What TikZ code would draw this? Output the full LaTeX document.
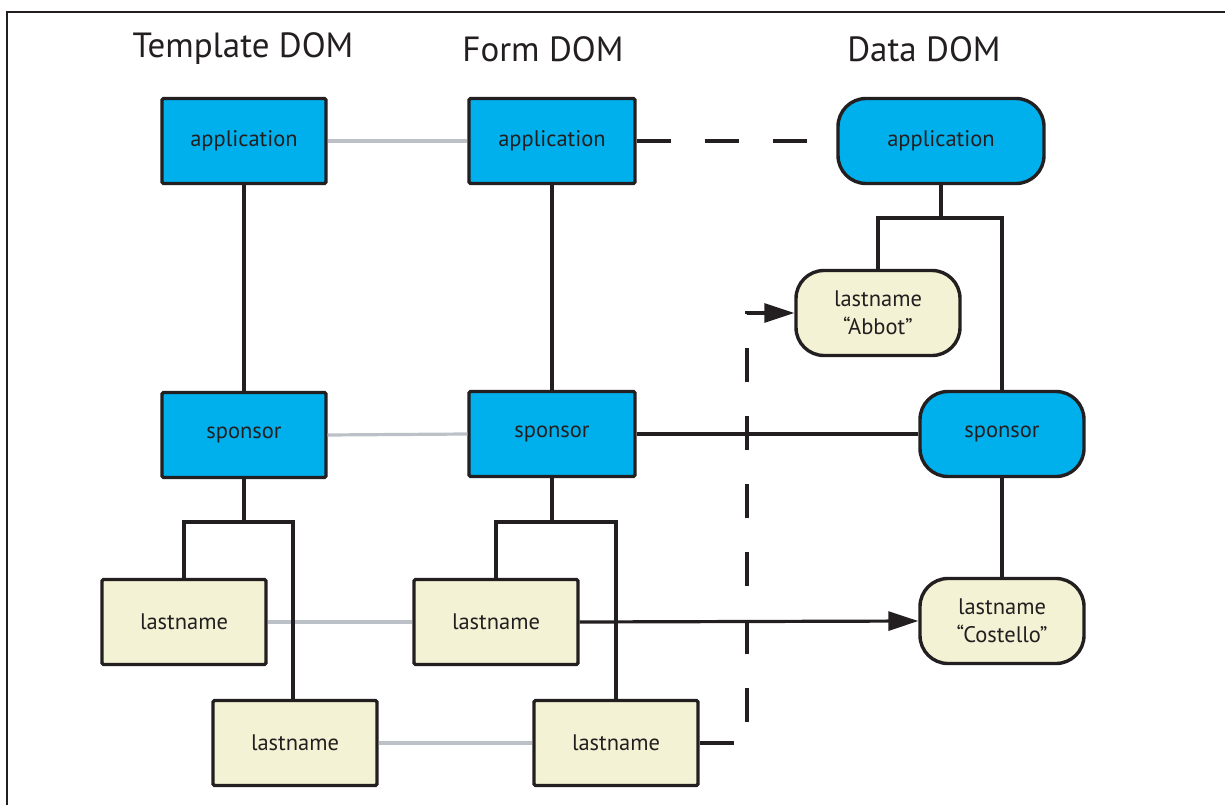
\documentclass[tikz,border=0pt]{standalone}
\usepackage{fontspec}
\setmainfont{PT Sans}
\usetikzlibrary{arrows.meta}
\definecolor{ink}{HTML}{231F20}
\definecolor{dblue}{HTML}{00B0EC}
\definecolor{cream}{HTML}{F3F2D4}
\definecolor{lgray}{HTML}{BCC1C7}
\begin{document}
\begin{tikzpicture}[x=1pt,y=-1pt,
  box/.style={draw=ink,line width=3.4pt,rounded corners=1.5pt,inner sep=0pt,minimum width=164pt,minimum height=85pt,font=\fontsize{22.5}{28}\selectfont,text=ink,align=center},
  bluebox/.style={box,fill=dblue},
  creambox/.style={box,fill=cream},
  roundbox/.style={rounded corners=28pt},
  title/.style={font=\fontsize{35}{40}\selectfont,text=ink,inner sep=0pt},
  link/.style={draw=ink,line width=3.2pt},
  glink/.style={draw=lgray,line width=3.2pt},
  dlink/.style={link,dash pattern=on 34pt off 34pt},
  tip/.style={-{Triangle[length=30pt,width=19pt]}}
]
\useasboundingbox (0,0) rectangle (1225,805);
\draw[ink,line width=2.6pt] (1225,12) -- (7,12) -- (7,805);

\node[title] (t1) at (243,49) {Template DOM};
\node[title] (t2) at (543,49) {Form DOM};
\node[title] (t3) at (924,49) {Data DOM};

\node[bluebox] (ta) at (244,141) {application};
\node[bluebox,minimum width=166pt] (fa) at (552,141) {application};
\node[bluebox,roundbox,minimum width=206pt] (da) at (941,141) {application};

\node[bluebox] (ts) at (244,435) {sponsor};
\node[bluebox,minimum width=166pt] (fs) at (552,434) {sponsor};
\node[bluebox,roundbox] (ds) at (1002,434) {sponsor};

\node[creambox,roundbox] (ab) at (878,313) {lastname\\“Abbot”};
\node[creambox,roundbox] (co) at (1002,621) {lastname\\“Costello”};

\node[creambox] (tl1) at (184,622) {lastname};
\node[creambox] (tl2) at (295,743) {lastname};
\node[creambox] (fl1) at (496,622) {lastname};
\node[creambox] (fl2) at (616,743) {lastname};

\coordinate (tj) at (0,522);
\coordinate (dj) at (0,218);
\coordinate (vx) at (747,0);

% gray links
\draw[glink] (ta.east) -- (fa.west);
\draw[glink] (ts.east) -- (fs.west);
\draw[glink] (tl1.east) -- (fl1.west);
\draw[glink] (tl2.east) -- (fl2.west);

% trees
\draw[link] (ta.south) -- (ts.north);
\draw[link] (fa.south) -- (fs.north);
\draw[link] (ts.south) -- (ts.south |- tj);
\draw[link] (tl1.north) -- (tl1.north |- tj) -- ([xshift=-2pt]tl2.north |- tj) -- ([xshift=-2pt]tl2.north);
\draw[link] (fs.south) -- (fs.south |- tj);
\draw[link] (fl1.north) -- (fl1.north |- tj) -- (fl2.north |- tj) -- (fl2.north);
\draw[link] (da.south) -- (da.south |- dj);
\draw[link] (ab.north) -- (ab.north |- dj) -- (ds.north |- dj) -- (ds.north);
\draw[link] (ds.south) -- (co.north);

% cross links
\draw[dlink] (fa.east) -- (da.west);
\draw[link] (fs.east) -- (ds.west);
\draw[link,tip] (fl1.east) -- (co.west);
\draw[dlink,tip] (fl2.east) -- (fl2.east -| vx) -- (ab.west -| vx) -- (ab.west);
\end{tikzpicture}
\end{document}
